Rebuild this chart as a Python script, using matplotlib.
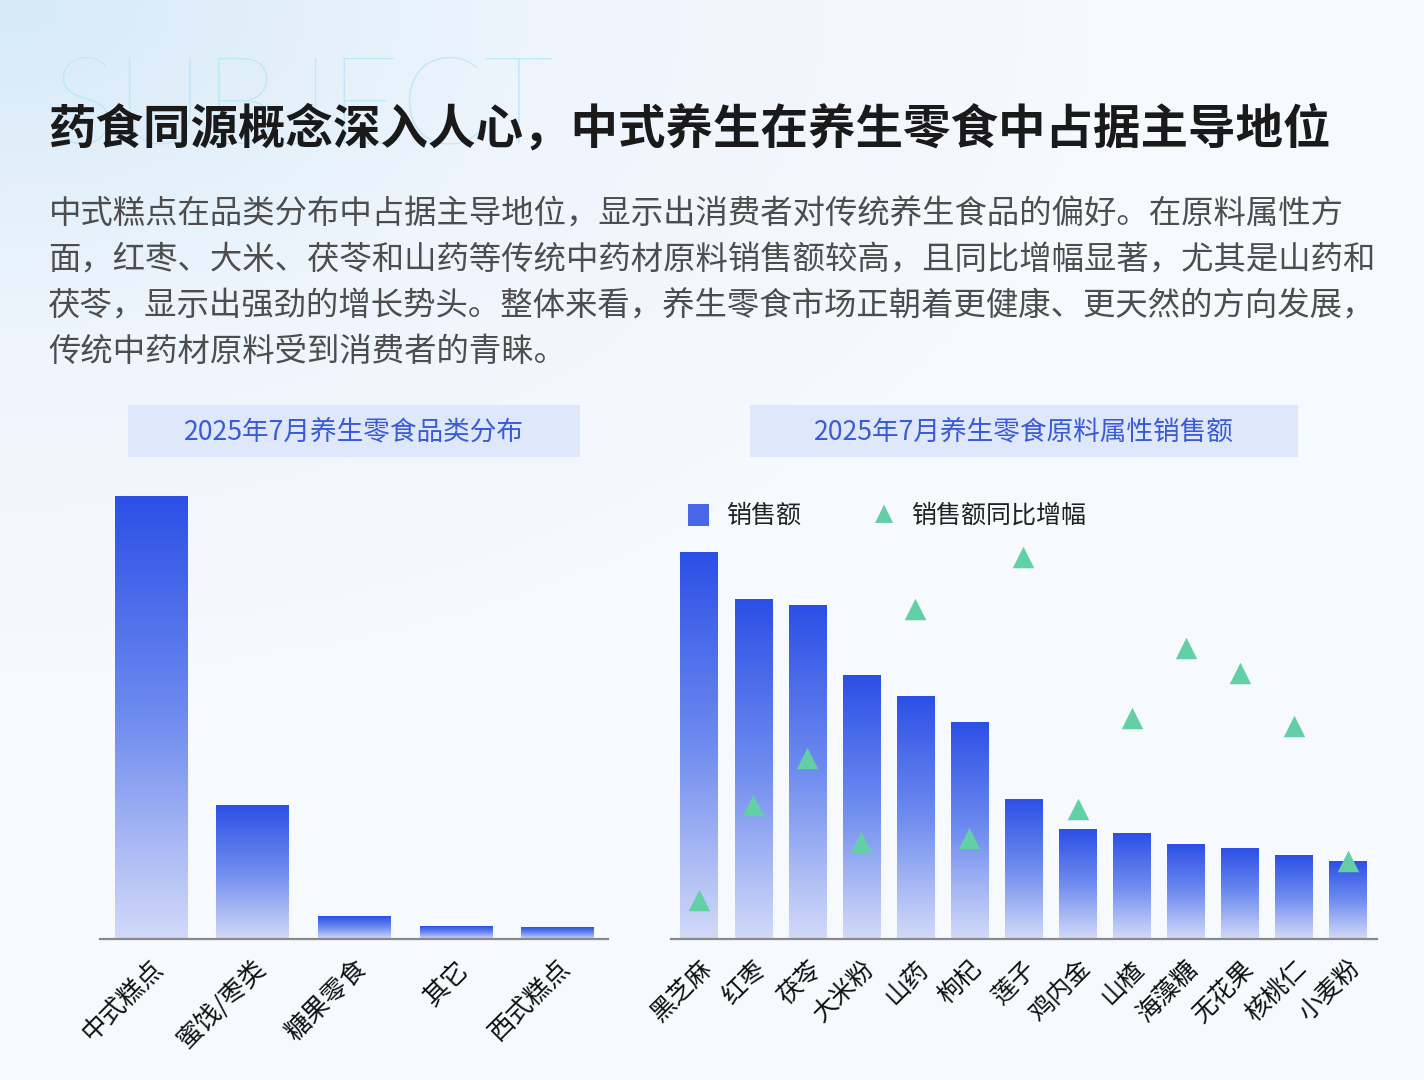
import numpy as np
import matplotlib.pyplot as plt
from matplotlib.colors import LinearSegmentedColormap

plt.rcParams['font.family'] = ['Noto Sans CJK SC', 'DejaVu Sans']

# 数据（从图中估读，单位为相对值）
categories = ['中式糕点', '蜜饯/枣类', '糖果零食', '其它', '西式糕点']
category_sales = [443, 134, 23, 13, 12]

ingredients = ['黑芝麻', '红枣', '茯苓', '大米粉', '山药', '枸杞', '莲子',
               '鸡内金', '山楂', '海藻糖', '无花果', '核桃仁', '小麦粉']
ingredient_sales = [387, 340, 334, 264, 243, 217, 140, 110, 106, 95, 91, 84, 78]
ingredient_growth = [39, 134, 181, 97, 330, 101, 382, 130, 221, 291, 266, 213, 78]

title = '药食同源概念深入人心，中式养生在养生零食中占据主导地位'
para = ['中式糕点在品类分布中占据主导地位，显示出消费者对传统养生食品的偏好。在原料属性方',
        '面，红枣、大米、茯苓和山药等传统中药材原料销售额较高，且同比增幅显著，尤其是山药和',
        '茯苓，显示出强劲的增长势头。整体来看，养生零食市场正朝着更健康、更天然的方向发展，',
        '传统中药材原料受到消费者的青睐。']

blue_cmap = LinearSegmentedColormap.from_list('bar', ['#d3daf8', '#6f8cef', '#2c4fe6'])
tri_color = '#62cfa6'

fig = plt.figure(figsize=(14.24, 10.8), dpi=100)

# 背景渐变（左上角偏蓝）
bg = fig.add_axes([0, 0, 1, 1], zorder=-10)
yy, xx = np.mgrid[0:1:200j, 0:1:200j]
r = np.sqrt((xx * 1.3) ** 2 + (yy * 1.6) ** 2)
bg.imshow(np.clip(r, 0, 1), cmap=LinearSegmentedColormap.from_list('bg', ['#d6eaf8', '#eef5fc', '#f6f9fe']),
          extent=[0, 1, 0, 1], origin='upper', aspect='auto')
bg.set_xlim(0, 1)
bg.set_ylim(0, 1)
bg.axis('off')

fig.text(0.036, 0.898, 'SUBJECT', fontsize=88, color='#bde8f8', family='Lato',
         fontweight='light', va='center', ha='left')
fig.text(0.034, 0.88, title, fontsize=34.2, fontweight='bold', color='#1a1a1a', va='center', ha='left')
for i, line in enumerate(para):
    fig.text(0.034, 0.801 - i * 0.0423, line, fontsize=23.3, color='#4d4d4d', va='center', ha='left')

# 小标题框
for x0, x1, txt in [(128, 580, '2025年7月养生零食品类分布'), (750, 1298, '2025年7月养生零食原料属性销售额')]:
    fig.patches.append(plt.Rectangle((x0 / 1424, 1 - 457 / 1080), (x1 - x0) / 1424, 52 / 1080,
                                     transform=fig.transFigure, facecolor='#dfe8fa', edgecolor='none'))
    fig.text((x0 + x1) / 2 / 1424, 1 - 432 / 1080, txt, fontsize=19.2, color='#3a5bd6', ha='center', va='center')


def gradient_bars(ax, values, width):
    bars = ax.bar(range(len(values)), values, width=width, color='none', edgecolor='none')
    grad = np.linspace(0, 1, 256).reshape(-1, 1)
    for p in bars:
        x0 = p.get_x()
        im = ax.imshow(grad, cmap=blue_cmap, origin='lower', aspect='auto',
                       extent=[x0, x0 + p.get_width(), 0, p.get_height()], zorder=2)
        im.set_clip_path(p)


def style_axis(ax, labels, fs):
    ax.set_facecolor('none')
    for s in ['top', 'right', 'left']:
        ax.spines[s].set_visible(False)
    ax.spines['bottom'].set_color('#8a8a8a')
    ax.spines['bottom'].set_linewidth(1.6)
    ax.set_yticks([])
    ax.set_xticks(range(len(labels)))
    ax.set_xticklabels(labels, rotation=45, ha='right', va='top', rotation_mode='anchor',
                       fontsize=fs, color='#111111')
    ax.tick_params(axis='x', length=0, pad=12)


# 左图：品类分布
ax1 = fig.add_axes([100 / 1424, 1 - 939 / 1080, 508 / 1424, 459 / 1080])
gradient_bars(ax1, category_sales, 0.71)
ax1.set_xlim(-0.5, 4.5)
ax1.set_ylim(0, 459)
style_axis(ax1, categories, 18.5)

# 右图：原料属性销售额
ax2 = fig.add_axes([671 / 1424, 1 - 939 / 1080, 706 / 1424, 459 / 1080])
gradient_bars(ax2, ingredient_sales, 0.69)
ax2.set_xlim(-0.52, 12.54)
ax2.set_ylim(0, 459)
style_axis(ax2, ingredients, 18)

ax3 = ax2.twinx()
ax3.scatter(range(len(ingredient_growth)), ingredient_growth, marker='^', s=240,
            color=tri_color, zorder=5, linewidths=0)
ax3.set_ylim(0, 459)
ax3.axis('off')

# 图例
fig.patches.append(plt.Rectangle((688 / 1424, 1 - 526 / 1080), 21 / 1424, 22 / 1080,
                                 transform=fig.transFigure, facecolor='#4a66e8', edgecolor='none'))
fig.text(726 / 1424, 1 - 516 / 1080, '销售额', fontsize=18, color='#222222', va='center', ha='left')
fig.text(884 / 1424, 1 - 513 / 1080, '▲', fontsize=17, color=tri_color, va='center', ha='center',
         family='DejaVu Sans')
fig.text(911 / 1424, 1 - 516 / 1080, '销售额同比增幅', fontsize=18, color='#222222', va='center', ha='left')

plt.savefig('out.png', dpi=100)
